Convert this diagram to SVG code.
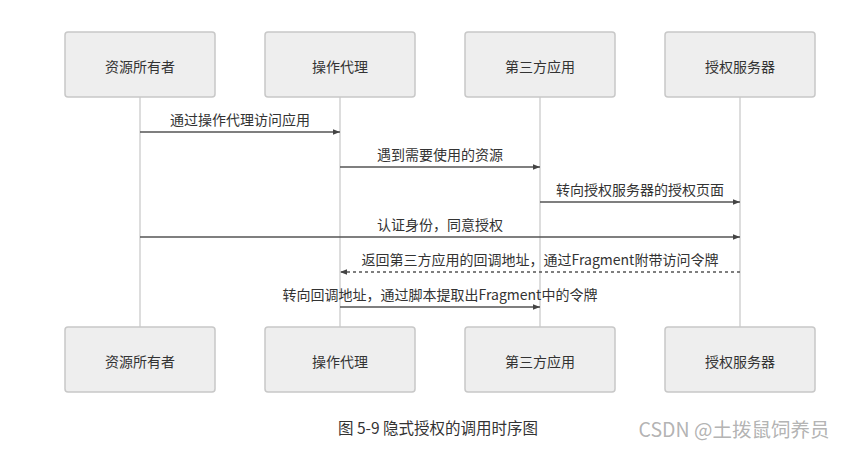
<svg xmlns="http://www.w3.org/2000/svg" width="855" height="449" viewBox="0 0 855 449">
<style>
.box{fill:#eeeeee;stroke:#c8c8c8;stroke-width:1.5}
.life{stroke:#dddddd;stroke-width:2}
.nt{font-family:"Noto Sans CJK SC","Liberation Sans",sans-serif;font-size:14px;fill:#333;text-anchor:middle}
.lt{font-family:"Noto Sans CJK SC","Liberation Sans",sans-serif;font-size:14px;fill:#333;text-anchor:middle}
.msg{stroke:#555;stroke-width:1.6;fill:none}
.dash{stroke-dasharray:3,3}
</style>
<defs>
<marker id="ah" viewBox="0 0 10 10" refX="10" refY="5" markerWidth="7" markerHeight="7" markerUnits="userSpaceOnUse" orient="auto">
<path d="M0,1 L10,5 L0,9 z" fill="#444"/>
</marker>
</defs>
<rect width="855" height="449" fill="#fff"/>
<g id="lifelines">
<line class="life" x1="140" y1="97" x2="140" y2="327"/>
<line class="life" x1="340" y1="97" x2="340" y2="327"/>
<line class="life" x1="540" y1="97" x2="540" y2="327"/>
<line class="life" x1="740" y1="97" x2="740" y2="327"/>
</g>
<g id="owner">
<rect class="box" x="65" y="32" width="150" height="65" rx="3"/>
<text class="nt" x="140" y="71.5">资源所有者</text>
<rect class="box" x="65" y="327" width="150" height="65" rx="3"/>
<text class="nt" x="140" y="366.5">资源所有者</text>
</g>
<g id="agent">
<rect class="box" x="265" y="32" width="150" height="65" rx="3"/>
<text class="nt" x="340" y="71.5">操作代理</text>
<rect class="box" x="265" y="327" width="150" height="65" rx="3"/>
<text class="nt" x="340" y="366.5">操作代理</text>
</g>
<g id="client">
<rect class="box" x="465" y="32" width="150" height="65" rx="3"/>
<text class="nt" x="540" y="71.5">第三方应用</text>
<rect class="box" x="465" y="327" width="150" height="65" rx="3"/>
<text class="nt" x="540" y="366.5">第三方应用</text>
</g>
<g id="authserver">
<rect class="box" x="665" y="32" width="150" height="65" rx="3"/>
<text class="nt" x="740" y="71.5">授权服务器</text>
<rect class="box" x="665" y="327" width="150" height="65" rx="3"/>
<text class="nt" x="740" y="366.5">授权服务器</text>
</g>
<g id="connectors">
<line class="msg" x1="140" y1="132" x2="340" y2="132" marker-end="url(#ah)"/>
<text class="lt" x="240" y="125">通过操作代理访问应用</text>
<line class="msg" x1="340" y1="167" x2="540" y2="167" marker-end="url(#ah)"/>
<text class="lt" x="440" y="160">遇到需要使用的资源</text>
<line class="msg" x1="540" y1="202" x2="740" y2="202" marker-end="url(#ah)"/>
<text class="lt" x="640" y="195">转向授权服务器的授权页面</text>
<line class="msg" x1="140" y1="237" x2="740" y2="237" marker-end="url(#ah)"/>
<text class="lt" x="440" y="230">认证身份，同意授权</text>
<line class="msg dash" x1="740" y1="272" x2="340" y2="272" marker-end="url(#ah)"/>
<text class="lt" x="540" y="265">返回第三方应用的回调地址，通过Fragment附带访问令牌</text>
<line class="msg" x1="340" y1="307" x2="540" y2="307" marker-end="url(#ah)"/>
<text class="lt" x="440" y="300">转向回调地址，通过脚本提取出Fragment中的令牌</text>
</g>
<text x="438" y="434" font-family="'Noto Sans CJK SC','Liberation Sans',sans-serif" font-size="15.5" fill="#333" text-anchor="middle">图 5-9 隐式授权的调用时序图</text>
<text x="734" y="437" font-family="'Noto Sans CJK SC','Liberation Sans',sans-serif" font-size="19.5" fill="#aaa" fill-opacity="0.9" text-anchor="middle">CSDN @土拨鼠饲养员</text>
</svg>
